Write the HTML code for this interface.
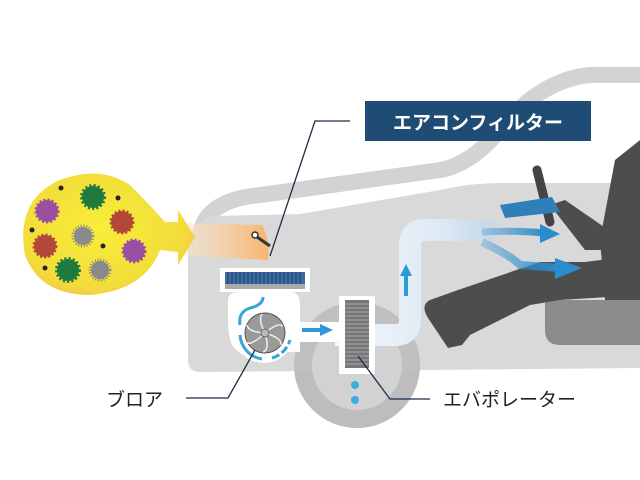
<!DOCTYPE html>
<html><head><meta charset="utf-8"><style>
html,body{margin:0;padding:0;background:#fff;width:640px;height:480px;overflow:hidden}
svg{display:block}
text{font-family:"Liberation Sans","Noto Sans CJK JP",sans-serif}
</style></head><body>
<svg width="640" height="480" viewBox="0 0 640 480" xmlns="http://www.w3.org/2000/svg">
<defs>
<radialGradient id="yb" cx="0.45" cy="0.45" r="0.6"><stop offset="0" stop-color="#f7ee3a"/><stop offset="0.8" stop-color="#f3dc3a"/><stop offset="1" stop-color="#f1c94a"/></radialGradient>
<linearGradient id="og" x1="0" x2="1"><stop offset="0" stop-color="#fbe7cf" stop-opacity="0.5"/><stop offset="1" stop-color="#f6b46a"/></linearGradient>
<linearGradient id="duct" x1="0" x2="1"><stop offset="0" stop-color="#f4f7fb"/><stop offset="0.7" stop-color="#dce8f4"/><stop offset="1" stop-color="#bcd6ee" stop-opacity="0.6"/></linearGradient>
<linearGradient id="ar" x1="0" x2="1"><stop offset="0" stop-color="#2d8fce" stop-opacity="0.3"/><stop offset="1" stop-color="#2a8ccc"/></linearGradient>
</defs>
<!-- roof band -->
<path d="M200 235 Q205 200 260 195 L440 170 Q470 165 500 130 Q540 80 590 75 L640 75" fill="none" stroke="#d3d3d3" stroke-width="16"/>
<!-- wheel (behind body bottom) -->
<circle cx="357" cy="365" r="63" fill="#bdbdbd"/>
<!-- body -->
<path d="M200 225 Q200 218 215 216 L300 214 L440 190 Q470 183 500 183 L640 183 L640 368 L200 372 Q188 372 188 360 L188 240 Z" fill="#d9d9d9"/>
<!-- darker lower right -->
<path d="M545 300 L640 300 L640 345 L560 345 Q545 345 545 330 Z" fill="#8c8c8c"/>
<!-- wheel front -->
<path d="M294 365 A63 63 0 0 1 420 365 A63 63 0 0 1 294 365 Z" fill="#bdbdbd" opacity="0.9"/>
<circle cx="357" cy="365" r="45" fill="#d2d2d2"/>
<!-- white blower area -->
<path d="M228 300 Q228 292 240 292 L290 292 Q300 292 300 305 L300 352 L275 352 A30 30 0 0 1 232 345 Q228 335 228 320 Z" fill="#fff"/>
<circle cx="264" cy="333" r="30" fill="#fff"/>
<!-- duct -->
<path d="M335 335 L395 335 Q410 335 410 320 L410 245 Q410 230 425 230 L495 230" fill="none" stroke="url(#duct)" stroke-width="22"/>
<rect x="296" y="322" width="44" height="20" fill="#fff"/>
<!-- orange air -->
<path d="M180 223 L262 225 Q270 240 268 260 L180 255 Z" fill="url(#og)"/>
<!-- yellow blob -->
<path d="M60 180 Q100 165 130 185 Q150 205 165 222 L178 222 L178 210 L195 237 L178 265 L178 252 L160 250 Q145 290 90 295 Q40 295 25 255 Q15 200 60 180 Z" fill="url(#yb)"/>
<g>
<circle cx="47" cy="211" r="11" fill="#9b4fa1" stroke="#9b4fa1" stroke-width="3" stroke-dasharray="2 2"/>
<circle cx="93" cy="197" r="11" fill="#1e7a3f" stroke="#1e7a3f" stroke-width="4" stroke-dasharray="2 2"/>
<circle cx="122" cy="222" r="11" fill="#b3483a" stroke="#b3483a" stroke-width="3" stroke-dasharray="2 2"/>
<circle cx="83" cy="236" r="9" fill="#8a8a8a" stroke="#8a8a8a" stroke-width="5" stroke-dasharray="1 1.5"/>
<circle cx="45" cy="246" r="11" fill="#b3483a" stroke="#b3483a" stroke-width="3" stroke-dasharray="2 2"/>
<circle cx="134" cy="251" r="11" fill="#9b4fa1" stroke="#9b4fa1" stroke-width="3" stroke-dasharray="2 2"/>
<circle cx="68" cy="270" r="11" fill="#1e7a3f" stroke="#1e7a3f" stroke-width="4" stroke-dasharray="2 2"/>
<circle cx="100" cy="270" r="9" fill="#8a8a8a" stroke="#8a8a8a" stroke-width="5" stroke-dasharray="1 1.5"/>
<circle cx="61" cy="188" r="2.5" fill="#222"/><circle cx="118" cy="198" r="2.5" fill="#222"/>
<circle cx="32" cy="230" r="2.5" fill="#222"/><circle cx="103" cy="246" r="2.5" fill="#222"/>
<circle cx="45" cy="268" r="2.5" fill="#222"/>
</g>
<!-- flap -->
<circle cx="255" cy="235" r="3" fill="#fff" stroke="#333" stroke-width="1.5"/>
<line x1="257" y1="237" x2="270" y2="246" stroke="#333" stroke-width="3"/>
<!-- filter -->
<rect x="220" y="268" width="90" height="24" fill="#fff"/>
<rect x="225" y="272" width="80" height="12" fill="#3d6aa0"/>
<path d="M228 272 V284 M232 272 V284 M236 272 V284 M240 272 V284 M244 272 V284 M248 272 V284 M252 272 V284 M256 272 V284 M260 272 V284 M264 272 V284 M268 272 V284 M272 272 V284 M276 272 V284 M280 272 V284 M284 272 V284 M288 272 V284 M292 272 V284 M296 272 V284 M300 272 V284" stroke="#1e3f6a" stroke-width="1"/>
<rect x="225" y="284" width="80" height="5" fill="#aaa"/>
<!-- blower -->
<path d="M263 297 Q263 305 250 308 Q238 312 240 325" fill="none" stroke="#3aa3d8" stroke-width="3"/>
<circle cx="265" cy="333" r="20" fill="#9a9a9a" stroke="#555" stroke-width="1"/>
<g stroke="#eee" stroke-width="1.5" fill="none">
<path d="M265 333 Q258 320 262 314"/><path d="M265 333 Q278 322 283 326"/><path d="M265 333 Q282 338 281 345"/><path d="M265 333 Q270 350 263 352"/><path d="M265 333 Q250 347 246 342"/><path d="M265 333 Q248 332 247 325"/>
</g>
<circle cx="265" cy="333" r="4" fill="#bbb" stroke="#555" stroke-width="0.8"/>
<path d="M240 335 A26 26 0 0 0 262 359" fill="none" stroke="#3aa3d8" stroke-width="3"/>
<path d="M272 358 A26 26 0 0 0 290 340" fill="none" stroke="#3aa3d8" stroke-width="3" stroke-dasharray="8 3"/>
<!-- arrows -->
<path d="M302 330 H322" stroke="#2c9ad6" stroke-width="4"/><path d="M320 324 L333 330 L320 336Z" fill="#2c9ad6"/>
<path d="M406 296 V274" stroke="#2c9ad6" stroke-width="4"/><path d="M400 276 L406 264 L412 276Z" fill="#2c9ad6"/>
<!-- evaporator -->
<rect x="339" y="296" width="36" height="78" fill="#fff"/>
<rect x="345" y="300" width="24" height="68" fill="#777"/>
<path d="M345 304 H369 M345 308 H369 M345 312 H369 M345 316 H369 M345 320 H369 M345 324 H369 M345 328 H369 M345 332 H369 M345 336 H369 M345 340 H369 M345 344 H369 M345 348 H369 M345 352 H369 M345 356 H369 M345 360 H369 M345 364 H369" stroke="#aaa" stroke-width="1"/>
<circle cx="355" cy="385" r="4" fill="#3aaee0"/><circle cx="355" cy="400" r="4" fill="#3aaee0"/>
<!-- person -->
<path d="M537 170 L550 222" stroke="#444" stroke-width="9" stroke-linecap="round"/>
<path d="M615 160 L640 140 L640 300 L605 300 L600 240 Z" fill="#4d4d4d"/>
<path d="M550 205 L565 200 L620 238 L612 250 L585 250 Z" fill="#4d4d4d"/>
<path d="M430 300 Q420 305 428 318 L448 348 L462 345 L470 335 L530 305 L560 300 L640 295 L640 255 L585 262 L540 262 L458 290 Z" fill="#4d4d4d"/>
<path d="M500 205 L552 197 L560 212 L505 218 Z" fill="#2f7fb8"/>
<!-- air arrows -->
<path d="M482 232 Q515 230 545 233" fill="none" stroke="url(#ar)" stroke-width="7"/>
<path d="M540 224 L560 234 L540 243Z" fill="#2a8ccc"/>
<path d="M482 242 Q510 255 520 265 L560 268" fill="none" stroke="url(#ar)" stroke-width="8"/>
<path d="M555 258 L582 268 L555 279Z" fill="#2a8ccc"/>
<!-- labels -->
<path d="M350 121 H315 L270 256" fill="none" stroke="#1a2e4a" stroke-width="1.3"/>
<rect x="365" y="101" width="226" height="40" fill="#1e4c75"/>
<text x="478" y="129" font-size="19" font-weight="bold" fill="#fff" text-anchor="middle">エアコンフィルター</text>
<path d="M186 398 H228 L255 350" fill="none" stroke="#1a2e4a" stroke-width="1.3"/>
<text x="106" y="406" font-size="19" fill="#222">ブロア</text>
<path d="M430 399 H390 L358 356" fill="none" stroke="#1a2e4a" stroke-width="1.3"/>
<text x="443" y="406" font-size="19" fill="#222">エバポレーター</text>
</svg>
</body></html>
